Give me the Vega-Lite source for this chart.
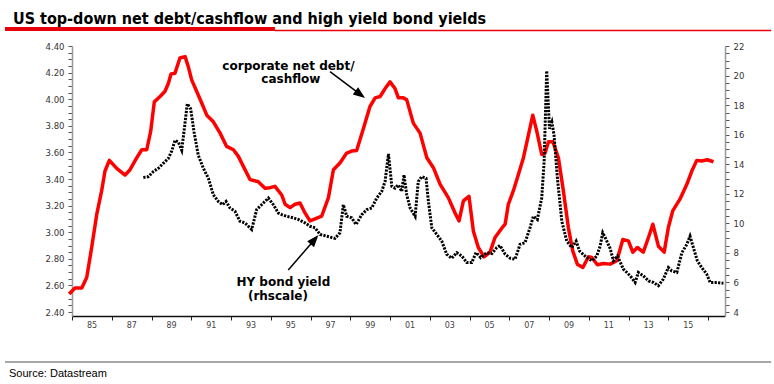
{
  "$schema": "https://vega.github.io/schema/vega-lite/v6.json",
  "width": 653,
  "height": 270,
  "autosize": {"type": "none"},
  "padding": {"left": 72, "top": 46, "right": 49, "bottom": 68},
  "background": "white",
  "config": {"view": {"stroke": null}, "font": "Liberation Sans", "axis": {"grid": false}},
  "datasets": {
    "debt": [
      {"t": 1984.86, "v": 2.535}, {"t": 1985.15, "v": 2.58}, {"t": 1985.49, "v": 2.58}, {"t": 1985.74, "v": 2.66},
      {"t": 1985.99, "v": 2.885}, {"t": 1986.24, "v": 3.13}, {"t": 1986.49, "v": 3.31}, {"t": 1986.66, "v": 3.46},
      {"t": 1986.88, "v": 3.54}, {"t": 1987.25, "v": 3.48}, {"t": 1987.67, "v": 3.43}, {"t": 1987.92, "v": 3.47},
      {"t": 1988.26, "v": 3.56}, {"t": 1988.51, "v": 3.62}, {"t": 1988.76, "v": 3.62}, {"t": 1988.96, "v": 3.76},
      {"t": 1989.14, "v": 3.98}, {"t": 1989.43, "v": 4.02}, {"t": 1989.68, "v": 4.06}, {"t": 1989.85, "v": 4.12},
      {"t": 1989.98, "v": 4.19}, {"t": 1990.18, "v": 4.195}, {"t": 1990.43, "v": 4.31}, {"t": 1990.69, "v": 4.32},
      {"t": 1990.85, "v": 4.245}, {"t": 1991.02, "v": 4.145}, {"t": 1991.27, "v": 4.06}, {"t": 1991.53, "v": 3.97},
      {"t": 1991.78, "v": 3.88}, {"t": 1992.11, "v": 3.83}, {"t": 1992.45, "v": 3.745}, {"t": 1992.78, "v": 3.645},
      {"t": 1993.12, "v": 3.62}, {"t": 1993.37, "v": 3.57}, {"t": 1993.62, "v": 3.495}, {"t": 1993.96, "v": 3.395},
      {"t": 1994.37, "v": 3.38}, {"t": 1994.71, "v": 3.33}, {"t": 1994.96, "v": 3.335}, {"t": 1995.21, "v": 3.345},
      {"t": 1995.55, "v": 3.28}, {"t": 1995.72, "v": 3.21}, {"t": 1995.97, "v": 3.185}, {"t": 1996.22, "v": 3.21},
      {"t": 1996.47, "v": 3.22}, {"t": 1996.72, "v": 3.145}, {"t": 1996.97, "v": 3.085}, {"t": 1997.23, "v": 3.1},
      {"t": 1997.56, "v": 3.12}, {"t": 1997.9, "v": 3.26}, {"t": 1998.15, "v": 3.47}, {"t": 1998.48, "v": 3.52},
      {"t": 1998.82, "v": 3.595}, {"t": 1999.07, "v": 3.61}, {"t": 1999.32, "v": 3.615}, {"t": 1999.66, "v": 3.78},
      {"t": 1999.99, "v": 3.945}, {"t": 2000.25, "v": 4.01}, {"t": 2000.5, "v": 4.02}, {"t": 2000.75, "v": 4.08},
      {"t": 2001.0, "v": 4.13}, {"t": 2001.25, "v": 4.08}, {"t": 2001.42, "v": 4.01}, {"t": 2001.67, "v": 4.01},
      {"t": 2001.84, "v": 3.995}, {"t": 2002.17, "v": 3.82}, {"t": 2002.51, "v": 3.745}, {"t": 2002.85, "v": 3.56},
      {"t": 2003.18, "v": 3.485}, {"t": 2003.52, "v": 3.36}, {"t": 2003.93, "v": 3.26}, {"t": 2004.27, "v": 3.145},
      {"t": 2004.47, "v": 3.085}, {"t": 2004.69, "v": 3.235}, {"t": 2004.97, "v": 3.27}, {"t": 2005.19, "v": 3.01},
      {"t": 2005.44, "v": 2.885}, {"t": 2005.73, "v": 2.815}, {"t": 2006.03, "v": 2.85}, {"t": 2006.28, "v": 2.96},
      {"t": 2006.62, "v": 3.03}, {"t": 2006.79, "v": 3.06}, {"t": 2006.95, "v": 3.21}, {"t": 2007.2, "v": 3.31},
      {"t": 2007.46, "v": 3.435}, {"t": 2007.71, "v": 3.56}, {"t": 2007.96, "v": 3.73}, {"t": 2008.18, "v": 3.88},
      {"t": 2008.38, "v": 3.76}, {"t": 2008.63, "v": 3.585}, {"t": 2008.8, "v": 3.595}, {"t": 2008.97, "v": 3.68},
      {"t": 2009.19, "v": 3.68}, {"t": 2009.47, "v": 3.56}, {"t": 2009.72, "v": 3.31}, {"t": 2009.97, "v": 3.035},
      {"t": 2010.19, "v": 2.86}, {"t": 2010.42, "v": 2.76}, {"t": 2010.7, "v": 2.735}, {"t": 2010.98, "v": 2.815},
      {"t": 2011.15, "v": 2.81}, {"t": 2011.43, "v": 2.755}, {"t": 2011.73, "v": 2.765}, {"t": 2012.07, "v": 2.76},
      {"t": 2012.41, "v": 2.785}, {"t": 2012.71, "v": 2.945}, {"t": 2012.99, "v": 2.935}, {"t": 2013.21, "v": 2.85},
      {"t": 2013.44, "v": 2.885}, {"t": 2013.74, "v": 2.85}, {"t": 2014.0, "v": 2.96}, {"t": 2014.22, "v": 3.06},
      {"t": 2014.5, "v": 2.895}, {"t": 2014.79, "v": 2.85}, {"t": 2015.0, "v": 3.035}, {"t": 2015.22, "v": 3.16},
      {"t": 2015.59, "v": 3.25}, {"t": 2015.93, "v": 3.36}, {"t": 2016.18, "v": 3.46}, {"t": 2016.43, "v": 3.54},
      {"t": 2016.68, "v": 3.535}, {"t": 2016.96, "v": 3.545}, {"t": 2017.27, "v": 3.53}
    ],
    "hy": [
      {"t": 1988.59, "v": 13.1}, {"t": 1988.84, "v": 13.16}, {"t": 1989.09, "v": 13.5}, {"t": 1989.34, "v": 13.72},
      {"t": 1989.59, "v": 14.06}, {"t": 1989.85, "v": 14.4}, {"t": 1990.02, "v": 14.9}, {"t": 1990.18, "v": 15.62},
      {"t": 1990.35, "v": 15.5}, {"t": 1990.52, "v": 14.95}, {"t": 1990.69, "v": 16.85}, {"t": 1990.8, "v": 18.09},
      {"t": 1990.97, "v": 17.75}, {"t": 1991.14, "v": 16.18}, {"t": 1991.35, "v": 14.62}, {"t": 1991.61, "v": 13.72},
      {"t": 1991.86, "v": 13.05}, {"t": 1992.11, "v": 11.93}, {"t": 1992.36, "v": 11.48}, {"t": 1992.58, "v": 11.26},
      {"t": 1992.75, "v": 11.48}, {"t": 1992.95, "v": 11.04}, {"t": 1993.2, "v": 10.81}, {"t": 1993.45, "v": 10.14},
      {"t": 1993.7, "v": 10.03}, {"t": 1994.04, "v": 9.58}, {"t": 1994.29, "v": 10.93}, {"t": 1994.54, "v": 11.26},
      {"t": 1994.88, "v": 11.71}, {"t": 1995.13, "v": 11.26}, {"t": 1995.38, "v": 10.7}, {"t": 1995.55, "v": 10.59},
      {"t": 1995.8, "v": 10.48}, {"t": 1996.13, "v": 10.37}, {"t": 1996.39, "v": 10.26}, {"t": 1996.72, "v": 10.03},
      {"t": 1996.97, "v": 9.8}, {"t": 1997.23, "v": 9.7}, {"t": 1997.48, "v": 9.25}, {"t": 1997.82, "v": 9.13},
      {"t": 1998.23, "v": 8.98}, {"t": 1998.48, "v": 9.36}, {"t": 1998.65, "v": 11.26}, {"t": 1998.82, "v": 10.48},
      {"t": 1999.07, "v": 10.37}, {"t": 1999.29, "v": 9.92}, {"t": 1999.58, "v": 10.59}, {"t": 1999.83, "v": 10.93},
      {"t": 2000.08, "v": 11.04}, {"t": 2000.33, "v": 11.71}, {"t": 2000.58, "v": 12.16}, {"t": 2000.75, "v": 12.83},
      {"t": 2000.92, "v": 14.7}, {"t": 2001.09, "v": 12.5}, {"t": 2001.25, "v": 12.38}, {"t": 2001.42, "v": 12.6},
      {"t": 2001.59, "v": 12.16}, {"t": 2001.7, "v": 13.28}, {"t": 2001.84, "v": 11.93}, {"t": 2002.01, "v": 11.04},
      {"t": 2002.26, "v": 10.48}, {"t": 2002.42, "v": 12.83}, {"t": 2002.59, "v": 13.16}, {"t": 2002.81, "v": 13.05},
      {"t": 2002.93, "v": 11.48}, {"t": 2003.1, "v": 9.7}, {"t": 2003.35, "v": 9.25}, {"t": 2003.6, "v": 8.8},
      {"t": 2003.85, "v": 7.91}, {"t": 2004.1, "v": 7.64}, {"t": 2004.36, "v": 8.02}, {"t": 2004.61, "v": 7.79},
      {"t": 2004.86, "v": 7.35}, {"t": 2005.11, "v": 7.35}, {"t": 2005.33, "v": 8.02}, {"t": 2005.56, "v": 7.68},
      {"t": 2005.87, "v": 8.02}, {"t": 2006.12, "v": 7.95}, {"t": 2006.37, "v": 8.36}, {"t": 2006.53, "v": 8.5},
      {"t": 2006.79, "v": 7.91}, {"t": 2007.04, "v": 7.64}, {"t": 2007.29, "v": 7.57}, {"t": 2007.54, "v": 8.58},
      {"t": 2007.79, "v": 8.69}, {"t": 2008.04, "v": 9.7}, {"t": 2008.21, "v": 10.48}, {"t": 2008.41, "v": 10.26},
      {"t": 2008.63, "v": 11.71}, {"t": 2008.75, "v": 14.17}, {"t": 2008.88, "v": 20.32}, {"t": 2009.02, "v": 16.41},
      {"t": 2009.14, "v": 16.85}, {"t": 2009.25, "v": 15.96}, {"t": 2009.42, "v": 13.05}, {"t": 2009.64, "v": 10.14},
      {"t": 2009.89, "v": 8.8}, {"t": 2010.14, "v": 8.36}, {"t": 2010.36, "v": 8.8}, {"t": 2010.53, "v": 8.13},
      {"t": 2010.81, "v": 7.79}, {"t": 2011.15, "v": 7.46}, {"t": 2011.4, "v": 7.79}, {"t": 2011.57, "v": 8.47},
      {"t": 2011.7, "v": 9.36}, {"t": 2011.87, "v": 8.91}, {"t": 2012.07, "v": 8.3}, {"t": 2012.24, "v": 7.46},
      {"t": 2012.44, "v": 7.79}, {"t": 2012.74, "v": 6.9}, {"t": 2013.08, "v": 6.45}, {"t": 2013.33, "v": 6.0},
      {"t": 2013.49, "v": 6.68}, {"t": 2013.74, "v": 6.45}, {"t": 2014.0, "v": 6.11}, {"t": 2014.25, "v": 6.0},
      {"t": 2014.5, "v": 5.78}, {"t": 2014.75, "v": 6.23}, {"t": 2015.0, "v": 7.01}, {"t": 2015.17, "v": 6.78},
      {"t": 2015.43, "v": 6.68}, {"t": 2015.68, "v": 8.02}, {"t": 2015.93, "v": 8.58}, {"t": 2016.09, "v": 9.13},
      {"t": 2016.26, "v": 8.36}, {"t": 2016.46, "v": 7.46}, {"t": 2016.68, "v": 7.01}, {"t": 2016.93, "v": 6.56},
      {"t": 2017.1, "v": 6.0}, {"t": 2017.44, "v": 6.0}, {"t": 2017.77, "v": 5.94}
    ],
    "notes": [
      {"label": "corporate net debt/", "t": 1995.89, "v": 4.2195},
      {"label": "cashflow", "t": 1996.01, "v": 4.124},
      {"label": "HY bond yield", "t": 1995.63, "v": 2.5955},
      {"label": "(rhscale)", "t": 1995.36, "v": 2.49}
    ],
    "arrows": [
      {"id": "debt", "t": 1997.98, "v": 4.2068, "t2": 1999.5, "v2": 4.036},
      {"id": "hy", "t": 1995.88, "v": 2.716, "t2": 1997.2, "v2": 2.944}
    ],
    "deco": [
      {"id": "thick", "t": 1981.63, "t2": 1995.21, "v": 4.528},
      {"id": "thin", "t": 1995.21, "t2": 2020.17, "v": 4.5165},
      {"id": "src", "t": 1981.63, "t2": 2020.17, "v": 2.0241}
    ],
    "titles": [
      {"id": "title", "label": "US top-down net debt/cashflow and high yield bond yields", "t": 1982.03, "v": 4.565},
      {"id": "source", "label": "Source: Datastream", "t": 1981.83, "v": 1.9114}
    ]
  },
  "layer": [
    {
      "layer": [
        {
          "data": {"name": "debt"},
          "mark": {"type": "line", "color": "#ff0000", "strokeWidth": 3.5, "strokeJoin": "round"},
          "encoding": {
            "x": {
              "field": "t", "type": "quantitative",
              "scale": {"domain": [1985, 2017.85], "nice": false, "zero": false},
              "axis": {
                "title": null, "grid": false, "tickCount": 200,
                "values": [1985, 1987, 1989, 1991, 1993, 1995, 1997, 1999, 2001, 2003, 2005, 2007, 2009, 2011, 2013, 2015, 2017],
                "labelExpr": "datum.value <= 2015 ? substring(toString(datum.value), 2, 4) : ''",
                "labelOffset": 19.5, "labelOverlap": false, "labelBound": false, "labelFlush": false,
                "tickSize": 4, "tickColor": "#222", "tickWidth": 1,
                "domainColor": "#111", "domainWidth": 1.5,
                "labelFont": "DejaVu Sans", "labelFontSize": 8, "labelColor": "#444", "labelPadding": 1
              }
            },
            "y": {
              "field": "v", "type": "quantitative",
              "scale": {"domain": [2.37, 4.4], "nice": false, "zero": false},
              "axis": {
                "orient": "left", "title": null, "grid": false, "tickCount": 200,
                "values": [2.4, 2.45, 2.5, 2.55, 2.6, 2.65, 2.7, 2.75, 2.8, 2.85, 2.9, 2.95, 3.0, 3.05, 3.1, 3.15, 3.2, 3.25, 3.3, 3.35, 3.4, 3.45, 3.5, 3.55, 3.6, 3.65, 3.7, 3.75, 3.8, 3.85, 3.9, 3.95, 4.0, 4.05, 4.1, 4.15, 4.2, 4.25, 4.3, 4.35, 4.4],
                "labelExpr": "abs(datum.value * 5 - round(datum.value * 5)) < 0.01 ? format(datum.value, '.2f') : ''",
                "labelOverlap": false, "labelBound": false, "labelFlush": false,
                "tickSize": 4, "tickColor": "#555", "tickWidth": 1,
                "domainColor": "#999", "domainWidth": 1.5,
                "labelFont": "DejaVu Sans", "labelFontSize": 8.5, "labelColor": "#333", "labelPadding": 4
              }
            }
          }
        },
        {
          "data": {"name": "deco"},
          "transform": [{"filter": "datum.id == 'thick'"}],
          "mark": {"type": "rule", "color": "#e8000b", "strokeWidth": 4},
          "encoding": {
            "x": {"field": "t", "type": "quantitative"},
            "x2": {"field": "t2"},
            "y": {"field": "v", "type": "quantitative"}
          }
        },
        {
          "data": {"name": "deco"},
          "transform": [{"filter": "datum.id == 'thin'"}],
          "mark": {"type": "rule", "color": "#e8000b", "strokeWidth": 1.5},
          "encoding": {
            "x": {"field": "t", "type": "quantitative"},
            "x2": {"field": "t2"},
            "y": {"field": "v", "type": "quantitative"}
          }
        },
        {
          "data": {"name": "deco"},
          "transform": [{"filter": "datum.id == 'src'"}],
          "mark": {"type": "rule", "color": "#8a8a8a", "strokeWidth": 1.5},
          "encoding": {
            "x": {"field": "t", "type": "quantitative"},
            "x2": {"field": "t2"},
            "y": {"field": "v", "type": "quantitative"}
          }
        },
        {
          "data": {"name": "titles"},
          "transform": [{"filter": "datum.id == 'title'"}],
          "mark": {"type": "text", "font": "'DejaVu Sans Condensed', sans-serif", "fontWeight": "bold", "fontSize": 16, "align": "left", "baseline": "alphabetic", "color": "#000"},
          "encoding": {
            "x": {"field": "t", "type": "quantitative"},
            "y": {"field": "v", "type": "quantitative"},
            "text": {"field": "label"}
          }
        },
        {
          "data": {"name": "titles"},
          "transform": [{"filter": "datum.id == 'source'"}],
          "mark": {"type": "text", "font": "Liberation Sans", "fontSize": 11, "align": "left", "baseline": "alphabetic", "color": "#000"},
          "encoding": {
            "x": {"field": "t", "type": "quantitative"},
            "y": {"field": "v", "type": "quantitative"},
            "text": {"field": "label"}
          }
        },
        {
          "data": {"name": "notes"},
          "mark": {"type": "text", "font": "DejaVu Sans", "fontWeight": "bold", "fontSize": 12, "align": "center", "baseline": "alphabetic", "color": "#000"},
          "encoding": {
            "x": {"field": "t", "type": "quantitative"},
            "y": {"field": "v", "type": "quantitative"},
            "text": {"field": "label"}
          }
        },
        {
          "data": {"name": "arrows"},
          "mark": {"type": "rule", "color": "#000", "strokeWidth": 1.5},
          "encoding": {
            "x": {"field": "t", "type": "quantitative"},
            "y": {"field": "v", "type": "quantitative"},
            "x2": {"field": "t2"},
            "y2": {"field": "v2"}
          }
        },
        {
          "data": {"name": "arrows"},
          "transform": [{"filter": "datum.id == 'debt'"}],
          "mark": {"type": "point", "shape": "M0,-1L0.75,1L-0.75,1Z", "size": 144, "filled": true, "color": "#000", "opacity": 1, "strokeWidth": 0, "angle": 127},
          "encoding": {
            "x": {"field": "t2", "type": "quantitative"},
            "y": {"field": "v2", "type": "quantitative"}
          }
        },
        {
          "data": {"name": "arrows"},
          "transform": [{"filter": "datum.id == 'hy'"}],
          "mark": {"type": "point", "shape": "M0,-1L0.75,1L-0.75,1Z", "size": 144, "filled": true, "color": "#000", "opacity": 1, "strokeWidth": 0, "angle": 40.6},
          "encoding": {
            "x": {"field": "t2", "type": "quantitative"},
            "y": {"field": "v2", "type": "quantitative"}
          }
        }
      ]
    },
    {
      "data": {"name": "hy"},
      "mark": {"type": "line", "color": "#000", "strokeWidth": 3, "strokeDash": [2.2, 1.3]},
      "encoding": {
        "x": {"field": "t", "type": "quantitative"},
        "y": {
          "field": "v", "type": "quantitative",
          "scale": {"domain": [3.73, 22], "nice": false, "zero": false},
          "axis": {
            "orient": "right", "title": null, "grid": false, "tickCount": 200,
            "values": [4, 4.5, 5, 5.5, 6, 6.5, 7, 7.5, 8, 8.5, 9, 9.5, 10, 10.5, 11, 11.5, 12, 12.5, 13, 13.5, 14, 14.5, 15, 15.5, 16, 16.5, 17, 17.5, 18, 18.5, 19, 19.5, 20, 20.5, 21, 21.5, 22],
            "labelExpr": "datum.value % 2 == 0 ? format(datum.value, 'd') : ''",
            "labelOverlap": false, "labelBound": false, "labelFlush": false,
            "tickSize": 4, "tickColor": "#555", "tickWidth": 1,
            "domainColor": "#999", "domainWidth": 1.5,
            "labelFont": "DejaVu Sans", "labelFontSize": 8.5, "labelColor": "#333", "labelPadding": 4
          }
        }
      }
    }
  ],
  "resolve": {"scale": {"y": "independent"}}
}
